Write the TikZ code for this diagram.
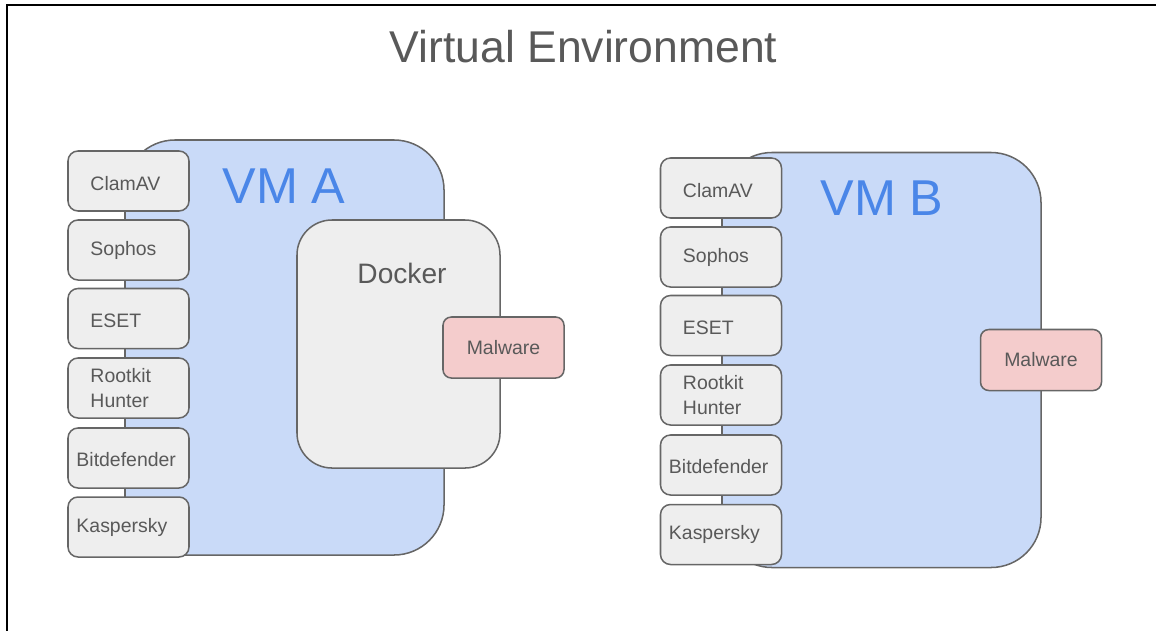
\documentclass[tikz,border=0pt]{standalone}
\usepackage{fontspec}
\setmainfont{Liberation Sans}

\definecolor{vmblue}{HTML}{C9DAF8}
\definecolor{vmtext}{HTML}{4A86E8}
\definecolor{boxgray}{HTML}{EEEEEE}
\definecolor{edgegray}{HTML}{666666}
\definecolor{textgray}{HTML}{595959}
\definecolor{malred}{HTML}{F4CCCC}

\tikzset{
	vm/.style={draw=edgegray, fill=vmblue, line width=1.3pt, rounded corners=1.5cm, minimum width=9.57cm, minimum height=12.45cm, inner sep=0pt},
	vmlabel/.style={text=vmtext, font=\fontsize{43}{50}\selectfont},
	avbox/.style={draw=edgegray, fill=boxgray, line width=1.3pt, rounded corners=0.3cm, minimum width=3.63cm, minimum height=1.8cm, inner sep=0pt},
	avtext/.style={text=textgray, font=\fontsize{16.6}{21}\selectfont, anchor=west, align=left, inner sep=0pt},
	dockerbox/.style={draw=edgegray, fill=boxgray, line width=1.3pt, rounded corners=1.05cm, minimum width=6.09cm, minimum height=7.44cm, inner sep=0pt},
	malbox/.style={draw=edgegray, fill=malred, line width=1.3pt, rounded corners=0.25cm, minimum width=3.63cm, minimum height=1.83cm, inner sep=0pt, text=textgray, font=\fontsize{16.6}{21}\selectfont}
}

\begin{document}
\begin{tikzpicture}[x=0.03cm, y=-0.03cm]

	\useasboundingbox (0,0) rectangle (1156,630);

	%frame
	\coordinate (fc) at (7,5);
	\draw[line width=2.5pt, line cap=rect] (7,630) -- (fc) -- (1156,5);

	%title
	\node[text=textgray, font=\fontsize{38}{44}\selectfont] (title) at (583.5,47){Virtual Environment};

	%VM A
	\node[vm] (vmA) at (284.5,347.5){};
	\node[vmlabel] (labA) at (284,186){VM A};

	\node[avbox] (clamA) at (128.5,181){};
	\node[avbox] (sophA) at (128.5,250){};
	\node[avbox] (esetA) at (128.5,318.5){};
	\node[avbox] (rootA) at (128.5,388){};
	\node[avbox] (bitA) at (128.5,458){};
	\node[avbox] (kasA) at (128.5,527){};

	\node[avtext] (tclamA) at ([xshift=23*0.03cm, yshift=-3*0.03cm]clamA.west){ClamAV};
	\node[avtext] (tsophA) at ([xshift=23*0.03cm]sophA.west){Sophos};
	\node[avtext] (tesetA) at ([xshift=23*0.03cm, yshift=-2*0.03cm]esetA.west){ESET};
	\node[avtext] (trootA) at ([xshift=23*0.03cm]rootA.west){Rootkit\\Hunter};
	\node[avtext] (tbitA) at ([xshift=9*0.03cm, yshift=-2*0.03cm]bitA.west){Bitdefender};
	\node[avtext] (tkasA) at ([xshift=9*0.03cm]kasA.west){Kaspersky};

	\node[dockerbox] (docker) at (398.5,344){};
	\node[text=textgray, font=\fontsize{24}{28}\selectfont] (tdocker) at (402,273){Docker};

	\node[malbox] (malA) at (503.5,347.5){Malware};

	%VM B
	\node[vm] (vmB) at (881.5,360){};
	\node[vmlabel] (labB) at (882,198){VM B};

	\node[avbox] (clamB) at (721,188){};
	\node[avbox] (sophB) at (721,257){};
	\node[avbox] (esetB) at (721,325.5){};
	\node[avbox] (rootB) at (721,395){};
	\node[avbox] (bitB) at (721,465){};
	\node[avbox] (kasB) at (721,534.5){};

	\node[avtext] (tclamB) at ([xshift=23*0.03cm, yshift=-3*0.03cm]clamB.west){ClamAV};
	\node[avtext] (tsophB) at ([xshift=23*0.03cm]sophB.west){Sophos};
	\node[avtext] (tesetB) at ([xshift=23*0.03cm, yshift=-2*0.03cm]esetB.west){ESET};
	\node[avtext] (trootB) at ([xshift=23*0.03cm]rootB.west){Rootkit\\Hunter};
	\node[avtext] (tbitB) at ([xshift=9*0.03cm, yshift=-2*0.03cm]bitB.west){Bitdefender};
	\node[avtext] (tkasB) at ([xshift=9*0.03cm]kasB.west){Kaspersky};

	\node[malbox] (malB) at (1041,360){Malware};

\end{tikzpicture}
\end{document}
